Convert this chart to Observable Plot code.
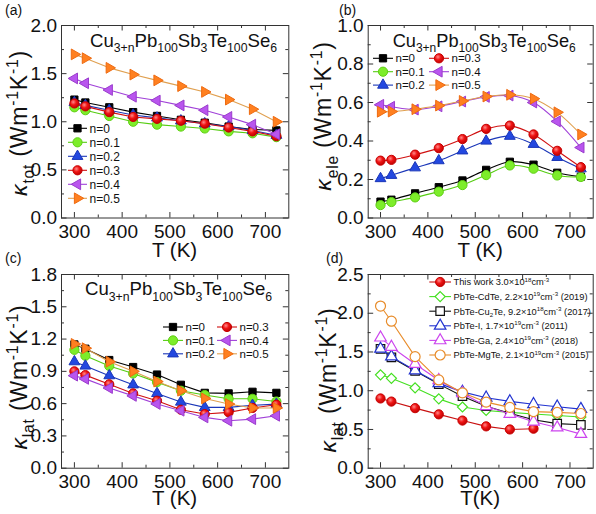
<!DOCTYPE html>
<html>
<head>
<meta charset="utf-8">
<script src="https://cdn.jsdelivr.net/npm/d3@7"></script>
<script src="https://cdn.jsdelivr.net/npm/@observablehq/plot@0.6"></script>
<style>
  body { margin: 0; background: #fff; }
  #fig { position: relative; width: 596px; height: 514px; overflow: hidden; font-family: "Liberation Sans", Arial, sans-serif; }
  #fig svg { position: absolute; overflow: visible; }
</style>
</head>
<body>
<svg width="0" height="0" style="position:absolute">
  <defs>
    <radialGradient id="redBall" cx="38%" cy="35%" r="70%">
      <stop offset="0%" stop-color="#ff8a8a"/>
      <stop offset="45%" stop-color="#f01414"/>
      <stop offset="100%" stop-color="#b80000"/>
    </radialGradient>
  </defs>
</svg>
<div id="fig"></div>
<script>
// ---------------- data ----------------
const T = [300, 323, 373, 423, 473, 523, 573, 623, 673, 723];
const T8 = [300, 323, 373, 423, 473, 523, 573, 623];
const nLabels = ["n=0", "n=0.1", "n=0.2", "n=0.3", "n=0.4", "n=0.5"];

// (a) total thermal conductivity
const kTot_n0  = [1.23, 1.20, 1.15, 1.10, 1.06, 1.02, 0.99, 0.95, 0.92, 0.91];
const kTot_n01 = [1.15, 1.12, 1.06, 1.00, 0.97, 0.95, 0.93, 0.90, 0.88, 0.84];
const kTot_n02 = [1.20, 1.17, 1.12, 1.07, 1.04, 1.01, 0.98, 0.95, 0.91, 0.86];
const kTot_n03 = [1.19, 1.16, 1.10, 1.05, 1.03, 1.01, 0.98, 0.94, 0.90, 0.85];
const kTot_n04 = [1.45, 1.40, 1.33, 1.26, 1.22, 1.17, 1.12, 1.05, 0.97, 0.87];
const kTot_n05 = [1.70, 1.66, 1.56, 1.49, 1.43, 1.37, 1.31, 1.23, 1.13, 1.00];

// (b) electronic thermal conductivity
const kEle_n0  = [0.085, 0.095, 0.128, 0.160, 0.195, 0.250, 0.292, 0.277, 0.235, 0.215];
const kEle_n01 = [0.067, 0.083, 0.107, 0.137, 0.171, 0.223, 0.273, 0.256, 0.221, 0.213];
const kEle_n02 = [0.205, 0.222, 0.261, 0.298, 0.349, 0.400, 0.425, 0.383, 0.315, 0.256];
const kEle_n03 = [0.298, 0.302, 0.329, 0.363, 0.410, 0.463, 0.480, 0.434, 0.349, 0.264];
const kEle_n04 = [0.588, 0.578, 0.563, 0.580, 0.605, 0.629, 0.636, 0.600, 0.502, 0.366];
const kEle_n05 = [0.552, 0.553, 0.565, 0.584, 0.608, 0.631, 0.640, 0.620, 0.549, 0.434];

// (c) lattice thermal conductivity
const kLat_n0  = [1.150, 1.110, 1.005, 0.940, 0.870, 0.775, 0.700, 0.695, 0.710, 0.700];
const kLat_n01 = [1.100, 1.045, 0.950, 0.880, 0.800, 0.720, 0.680, 0.645, 0.645, 0.620];
const kLat_n02 = [0.990, 0.950, 0.860, 0.775, 0.695, 0.615, 0.565, 0.565, 0.585, 0.595];
const kLat_n03 = [0.900, 0.865, 0.780, 0.695, 0.627, 0.543, 0.503, 0.519, 0.560, 0.590];
const kLat_n04 = [0.860, 0.830, 0.745, 0.672, 0.597, 0.534, 0.472, 0.441, 0.456, 0.487];
const kLat_n05 = [1.155, 1.115, 0.990, 0.900, 0.805, 0.720, 0.648, 0.596, 0.560, 0.560];

// (d) comparison of lattice thermal conductivity
const thisWork = [0.90, 0.86, 0.775, 0.695, 0.615, 0.54, 0.50, 0.51];
const pbteCdTe = [1.205, 1.16, 1.037, 0.895, 0.79, 0.745, 0.72, 0.70, 0.68, 0.66];
const pbteCu2Te = [1.54, 1.43, 1.255, 1.085, 0.93, 0.80, 0.71, 0.625, 0.575, 0.56];
const pbteI = [1.54, 1.44, 1.26, 1.095, 0.985, 0.91, 0.862, 0.826, 0.793, 0.763];
const pbteGa = [1.685, 1.565, 1.345, 1.135, 0.968, 0.80, 0.70, 0.60, 0.525, 0.44];
const pbteMgTe = [2.093, 1.897, 1.44, 1.139, 0.973, 0.853, 0.785, 0.73, 0.72, 0.706];

const refLabels = [
  [["This work 3.0×10", ""], ["18", "sup"], ["cm", ""], ["-3", "sup"]],
  [["PbTe-CdTe, 2.2×10", ""], ["19", "sup"], ["cm", ""], ["-3", "sup"], [" (2019)", ""]],
  [["PbTe-Cu", ""], ["2", "sub"], ["Te, 9.2×10", ""], ["18", "sup"], ["cm", ""], ["-3", "sup"], [" (2017)", ""]],
  [["PbTe-I, 1.7×10", ""], ["19", "sup"], ["cm", ""], ["-3", "sup"], [" (2011)", ""]],
  [["PbTe-Ga, 2.4×10", ""], ["19", "sup"], ["cm", ""], ["-3", "sup"], [" (2018)", ""]],
  [["PbTe-MgTe, 2.1×10", ""], ["19", "sup"], ["cm", ""], ["-3", "sup"], [" (2015)", ""]]
];

const xMajor = [300, 400, 500, 600, 700];
const xMinor = [350, 450, 550, 650];
const yMajorA = [0, 0.5, 1.0, 1.5, 2.0], yMinorA = [0.25, 0.75, 1.25, 1.75];
const yMajorB = [0, 0.2, 0.4, 0.6, 0.8, 1.0], yMinorB = [0.1, 0.3, 0.5, 0.7, 0.9];
const yMajorC = [0, 0.3, 0.6, 0.9, 1.2, 1.5, 1.8], yMinorC = [0.15, 0.45, 0.75, 1.05, 1.35, 1.65];
const yMajorD = [0, 0.5, 1.0, 1.5, 2.0, 2.5], yMinorD = [0.25, 0.75, 1.25, 1.75, 2.25];

const titleSegs = [["Cu", ""], ["3+n", "sub"], ["Pb", ""], ["100", "sub"], ["Sb", ""], ["3", "sub"], ["Te", ""], ["100", "sub"], ["Se", ""], ["6", "sub"]];
const yLabel = sub => [["κ", "it"], [sub, "sub"], [" (Wm", ""], ["-1", "sup"], ["K", ""], ["-1", "sup"], [")", ""]];

// ---------------- symbols ----------------
const s3 = Math.sqrt(3);
const triUp = d3.symbolTriangle;
const triRight = { draw(ctx, size) { const y = -Math.sqrt(size / (s3 * 3)); ctx.moveTo(-2 * y, 0); ctx.lineTo(y, -s3 * y); ctx.lineTo(y, s3 * y); ctx.closePath(); } };
const triLeft = { draw(ctx, size) { const y = -Math.sqrt(size / (s3 * 3)); ctx.moveTo(2 * y, 0); ctx.lineTo(-y, -s3 * y); ctx.lineTo(-y, s3 * y); ctx.closePath(); } };
const diamond = { draw(ctx, size) { const h = Math.sqrt(size / 2); ctx.moveTo(0, -h); ctx.lineTo(h, 0); ctx.lineTo(0, h); ctx.lineTo(-h, 0); ctx.closePath(); } };

const nStyles = [
  { symbol: d3.symbolSquare, r: 4.1, fill: "#000000", stroke: "#000000", line: "#000000" },
  { symbol: d3.symbolCircle, r: 4.6, fill: "#7ded2a", stroke: "#5fcf15", line: "#55cc11" },
  { symbol: triUp, r: 4.0, fill: "#2348e0", stroke: "#1a36b8", line: "#1a36b8" },
  { symbol: d3.symbolCircle, r: 4.6, fill: "url(#redBall)", stroke: "#c80000", line: "#d01010" },
  { symbol: triLeft, r: 4.0, fill: "#b955ee", stroke: "#9a3ccc", line: "#a040d8" },
  { symbol: triRight, r: 4.0, fill: "#ff8020", stroke: "#ee6a10", line: "#e0a050" }
];
const refStyles = [
  { symbol: d3.symbolCircle, r: 4.6, fill: "url(#redBall)", stroke: "#c80000", line: "#c81010", sw: 1 },
  { symbol: diamond, r: 4.0, fill: "#ffffff", stroke: "#44e020", line: "#44e020", sw: 1.2 },
  { symbol: d3.symbolSquare, r: 4.8, fill: "#ffffff", stroke: "#111111", line: "#111111", sw: 1.2 },
  { symbol: triUp, r: 4.3, fill: "#ffffff", stroke: "#2233d0", line: "#2233d0", sw: 1.2 },
  { symbol: triUp, r: 4.3, fill: "#ffffff", stroke: "#cc44ee", line: "#cc44ee", sw: 1.2 },
  { symbol: d3.symbolCircle, r: 5.0, fill: "#ffffff", stroke: "#e88c2a", line: "#e88c2a", sw: 1.2 }
];

// ---------------- helpers ----------------
const FONT = "Liberation Sans, Arial, sans-serif";
function rich(parent, x, y, segs, size, scale = 0.66) {
  const t = parent.append("text").attr("x", x).attr("y", y).attr("text-anchor", "start")
    .attr("font-size", size).attr("font-family", FONT).attr("fill", "#111");
  let off = 0;
  for (const [s, k] of segs) {
    const target = k === "sub" ? 0.30 * size : k === "sup" ? -0.40 * size : 0;
    const ts = t.append("tspan").text(s).attr("dy", target - off);
    if (k === "sub" || k === "sup") ts.attr("font-size", size * scale);
    if (k === "it") ts.attr("font-style", "italic");
    off = target;
  }
  return t;
}
function plain(parent, x, y, str, size, anchor) {
  return parent.append("text").attr("x", x).attr("y", y).attr("text-anchor", anchor)
    .attr("font-size", size).attr("font-family", FONT).attr("fill", "#111").text(str);
}
function legendEntry(g, x0, len, y, st, segs, size) {
  g.append("line").attr("x1", x0).attr("x2", x0 + len).attr("y1", y).attr("y2", y)
    .attr("stroke", st.line).attr("stroke-width", 1.1);
  g.append("path").attr("transform", `translate(${x0 + len / 2},${y})`)
    .attr("d", d3.symbol(st.symbol, Math.PI * st.r * st.r)())
    .attr("fill", st.fill).attr("stroke", st.stroke).attr("stroke-width", st.sw || 1);
  rich(g, x0 + len + 2.5, y + 0.36 * size, segs, size);
}
function yTitle(g, x, y, sub) {
  rich(g, 0, 0, yLabel(sub), 23, 0.68).attr("text-anchor", "middle")
    .attr("letter-spacing", 0.8)
    .attr("transform", `translate(${x},${y}) rotate(-90)`);
}

function panel(cfg) {
  const { left, top, width, height, m, xDomain, yDomain, yMajor, yMinor, series, curve } = cfg;
  const ih = height - m.top - m.bottom, iw = width - m.left - m.right;
  const MJ = 5.5, MN = 3;
  const tk = "#333";
  const marks = [
    Plot.ruleX(xMajor, { insetTop: ih - MJ, stroke: tk }),
    Plot.ruleX(xMajor, { insetBottom: ih - MJ, stroke: tk }),
    Plot.ruleX(xMinor, { insetTop: ih - MN, stroke: tk }),
    Plot.ruleX(xMinor, { insetBottom: ih - MN, stroke: tk }),
    Plot.ruleY(yMajor, { insetRight: iw - MJ, stroke: tk }),
    Plot.ruleY(yMajor, { insetLeft: iw - MJ, stroke: tk }),
    Plot.ruleY(yMinor, { insetRight: iw - MN, stroke: tk }),
    Plot.ruleY(yMinor, { insetLeft: iw - MN, stroke: tk }),
    Plot.axisX(xMajor, { tickSize: 0, tickPadding: 6, fontSize: 19, label: null, tickFormat: d3.format("d") }),
    Plot.axisY(yMajor, { tickSize: 0, tickPadding: 4.5, fontSize: 19, label: null, tickFormat: d3.format(".1f") })
  ];
  for (const s of series) {
    const data = s.x.map((t, i) => ({ T: t, v: s.y[i] }));
    marks.push(Plot.line(data, { x: "T", y: "v", stroke: s.st.line, strokeWidth: 1.1, curve }));
    marks.push(Plot.dot(data, { x: "T", y: "v", symbol: s.st.symbol, r: s.st.r, fill: s.st.fill, stroke: s.st.stroke, strokeWidth: s.st.sw || 1 }));
  }
  marks.push(Plot.frame({ stroke: "#333", strokeWidth: 1 }));
  const svg = Plot.plot({
    width, height,
    marginLeft: m.left, marginRight: m.right, marginTop: m.top, marginBottom: m.bottom,
    x: { domain: xDomain },
    y: { domain: yDomain },
    style: { fontFamily: FONT, background: "transparent", color: "#111", overflow: "visible" },
    marks
  });
  svg.style.left = left + "px";
  svg.style.top = top + "px";
  document.getElementById("fig").appendChild(svg);
  return d3.select(svg);
}

const mkSeries = (arrs, styles, xs) => arrs.map((y, i) => ({ x: xs ? xs[i] : T, y, st: styles[i] }));

// ---------------- panel (a) ----------------
const gA = panel({
  left: 0, top: 0, width: 296, height: 257,
  m: { left: 61, right: 7.7, top: 25, bottom: 39.5 },
  xDomain: [273, 749], yDomain: [0, 2], yMajor: yMajorA, yMinor: yMinorA,
  series: mkSeries([kTot_n0, kTot_n01, kTot_n02, kTot_n03, kTot_n04, kTot_n05], nStyles),
  curve: "linear"
});
rich(gA, 90, 46.5, titleSegs, 18.6);
yTitle(gA, 27, 123, "tot");
plain(gA, 174.6, 256.5, "T (K)", 20.5, "middle");
plain(gA, 5, 15, "(a)", 14, "start");
nLabels.forEach((lab, i) => legendEntry(gA, 68, 19, 128.3 + 14 * i, nStyles[i], [[lab, ""]], 12));

// ---------------- panel (b) ----------------
const gB = panel({
  left: 296, top: 0, width: 300, height: 257,
  m: { left: 71.7, right: 3.3, top: 25, bottom: 39.5 },
  xDomain: [274, 749], yDomain: [0, 1], yMajor: yMajorB, yMinor: yMinorB,
  series: mkSeries([kEle_n0, kEle_n01, kEle_n02, kEle_n03, kEle_n04, kEle_n05], nStyles),
  curve: "catmull-rom"
});
rich(gB, 96.7, 46.5, titleSegs, 18.2);
yTitle(gB, 35, 116, "ele");
plain(gB, 184.2, 256.5, "T (K)", 20.5, "middle");
plain(gB, 43, 15, "(b)", 14, "start");
nLabels.forEach((lab, i) => {
  const col = Math.floor(i / 3), row = i % 3;
  legendEntry(gB, col ? 133 : 77, 20, 58.3 + 13.4 * row, nStyles[i], [[lab, ""]], 11.5);
});

// ---------------- panel (c) ----------------
const gC = panel({
  left: 0, top: 257, width: 296, height: 257,
  m: { left: 61, right: 7.7, top: 17, bottom: 46.3 },
  xDomain: [273, 749], yDomain: [0, 1.8], yMajor: yMajorC, yMinor: yMinorC,
  series: mkSeries([kLat_n0, kLat_n01, kLat_n02, kLat_n03, kLat_n04, kLat_n05], nStyles),
  curve: "linear"
});
rich(gC, 85, 38.3, titleSegs, 18.6);
yTitle(gC, 27, 120, "lat");
plain(gC, 174.6, 248, "T (K)", 20.5, "middle");
plain(gC, 5, 6, "(c)", 14, "start");
nLabels.forEach((lab, i) => {
  const col = Math.floor(i / 3), row = i % 3;
  legendEntry(gC, col ? 217 : 163, 20, 70 + 13.4 * row, nStyles[i], [[lab, ""]], 11.5);
});

// ---------------- panel (d) ----------------
const gD = panel({
  left: 296, top: 257, width: 300, height: 257,
  m: { left: 71.7, right: 3.3, top: 17, bottom: 46.3 },
  xDomain: [274, 749], yDomain: [0, 2.5], yMajor: yMajorD, yMinor: yMinorD,
  series: mkSeries([thisWork, pbteCdTe, pbteCu2Te, pbteI, pbteGa, pbteMgTe], refStyles, [T8, T, T, T, T, T]),
  curve: "linear"
});
yTitle(gD, 40, 123, "lat");
plain(gD, 184.2, 248, "T(K)", 20.5, "middle");
plain(gD, 30, 6, "(d)", 14, "start");
refLabels.forEach((segs, i) => legendEntry(gD, 133.3, 21.7, 25 + 14.6 * i, refStyles[i], segs, 9.3));
</script>
</body>
</html>
